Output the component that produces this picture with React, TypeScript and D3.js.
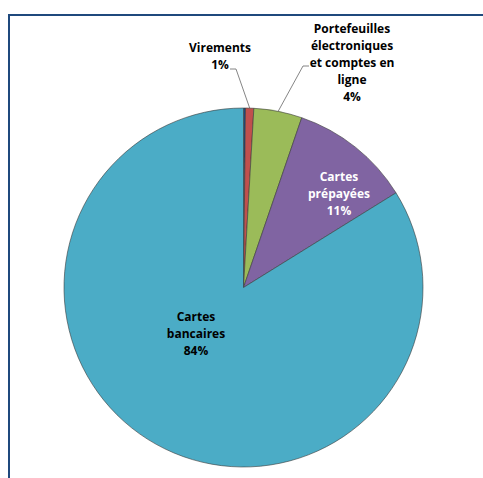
import React from "react";
import * as d3 from "d3";

const categories = ["", "Virements", "Portefeuilles électroniques et comptes en ligne", "Cartes prépayées", "Cartes bancaires"];
const values = [0.18, 0.74, 4.34, 10.9, 83.84];
const colors = ["#1F497D", "#C0504D", "#9BBB59", "#8064A2", "#4BACC6"];
const labelLines = [
  [],
  ["Virements", "1%"],
  ["Portefeuilles", "électroniques", "et comptes en", "ligne", "4%"],
  ["Cartes", "prépayées", "11%"],
  ["Cartes", "bancaires", "84%"],
];

const W = 483, H = 478;
const cx = 243.5, cy = 287.5, R = 179.5;

const labelLayout = [
  null,
  { x: 220, y: 52, fill: "#000", leader: { x: 236, y: 69, hx: 230 } },
  { x: 352, y: 33, fill: "#000", leader: { x: 303, y: 66, hx: 309 } },
  { x: 339, y: 181, fill: "#fff", leader: null },
  { x: 196, y: 321, fill: "#000", leader: null },
];

export default function App() {
  const data = categories.map((c, i) => ({ c, v: values[i], i }));
  const pie = d3.pie<any>().value((d) => d.v).sort(null);
  const arcs = pie(data);
  const arc = d3.arc<any>().innerRadius(0).outerRadius(R);
  const lh = 17;
  return (
    <svg width={W} height={H} style={{ position: "absolute", left: 0, top: 0, background: "#fff" }}>
      <rect x={0} y={0} width={W} height={H} fill="#fff" />
      <line x1={8} y1={15} x2={W} y2={15} stroke="#1F497D" strokeWidth={2} />
      <line x1={9} y1={14} x2={9} y2={H} stroke="#1F497D" strokeWidth={2} />
      <g transform={`translate(${cx},${cy})`}>
        {arcs.map((a, i) => (
          <path key={i} d={arc(a) as string} fill={colors[i]} stroke="#3a3a3a" strokeWidth={0.6} />
        ))}
      </g>
      {arcs.map((a, i) => {
        const L = labelLayout[i];
        if (!L || !L.leader) return null;
        const mid = (a.startAngle + a.endAngle) / 2;
        const px = cx + R * Math.sin(mid);
        const py = cy - R * Math.cos(mid);
        return (
          <polyline
            key={"l" + i}
            points={`${px},${py} ${L.leader.x},${L.leader.y} ${L.leader.hx},${L.leader.y}`}
            fill="none"
            stroke="#666"
            strokeWidth={0.8}
          />
        );
      })}
      {labelLines.map((lines, i) => {
        const L = labelLayout[i];
        if (!L) return null;
        return (
          <text
            key={"t" + i}
            x={L.x}
            y={L.y}
            textAnchor="middle"
            fontFamily="'Open Sans', sans-serif"
            fontWeight="bold"
            fontSize={12}
            fill={L.fill}
          >
            {lines.map((s, j) => (
              <tspan key={j} x={L.x} y={L.y + j * lh}>
                {s}
              </tspan>
            ))}
          </text>
        );
      })}
    </svg>
  );
}
